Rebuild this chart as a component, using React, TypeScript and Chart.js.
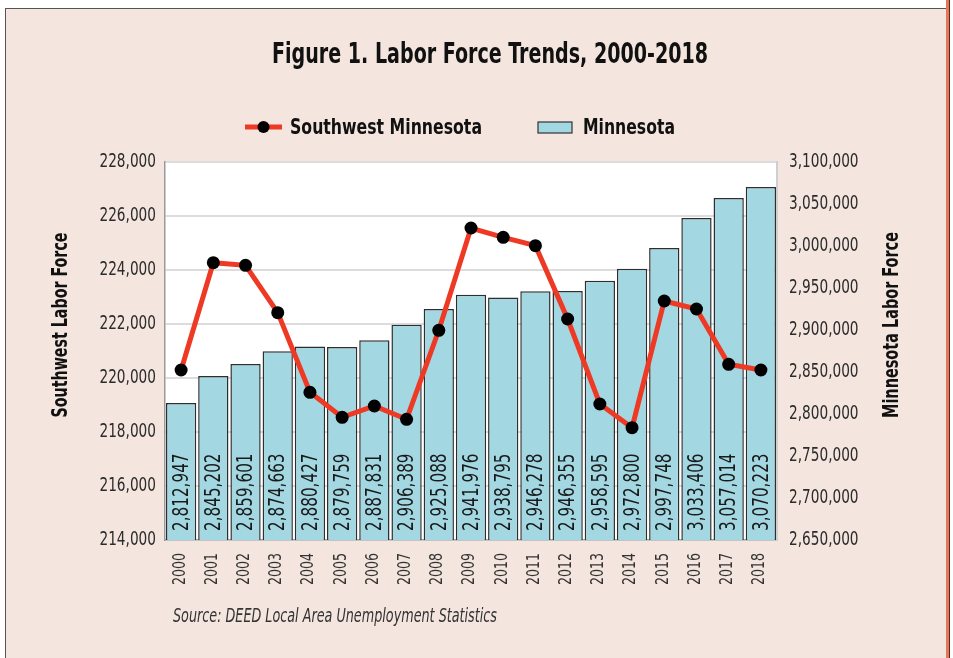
import React, { useEffect, useRef } from "react";
import { Chart, registerables } from "chart.js";

Chart.register(...registerables);

const years = ["2000","2001","2002","2003","2004","2005","2006","2007","2008","2009","2010","2011","2012","2013","2014","2015","2016","2017","2018"];
const southwestLabor = [220296, 224270, 224174, 222420, 219470, 218544, 218963, 218470, 221767, 225556, 225211, 224900, 222185, 219037, 218159, 222852, 222556, 220507, 220296];
const minnesotaLabor = [2812947, 2845202, 2859601, 2874663, 2880427, 2879759, 2887831, 2906389, 2925088, 2941976, 2938795, 2946278, 2946355, 2958595, 2972800, 2997748, 3033406, 3057014, 3070223];

const titleText = "Figure 1. Labor Force Trends, 2000-2018";
const swLabel = "Southwest Minnesota";
const mnLabel = "Minnesota";
const leftAxisTitle = "Southwest Labor Force";
const rightAxisTitle = "Minnesota Labor Force";
const sourceText = "Source: DEED Local Area Unemployment Statistics";

const FONT = "'DejaVu Sans Condensed', 'Liberation Sans Narrow', 'DejaVu Sans', sans-serif";
const BG = "#f4e6de";
const BAR_FILL = "#a3d8e3";
const BAR_EDGE = "#2e2e2e";
const LINE_RED = "#ee3a24";

const fmt = (v: number) => Math.round(v).toLocaleString("en-US");

type TextOpts = {
  font: string;
  color?: string;
  align?: CanvasTextAlign;
  baseline?: CanvasTextBaseline;
  rotate?: number;
  sx?: number;
  fitWidth?: number;
};

function drawText(ctx: CanvasRenderingContext2D, text: string, x: number, y: number, o: TextOpts) {
  ctx.save();
  ctx.font = o.font;
  ctx.fillStyle = o.color || "#111";
  ctx.textAlign = o.align || "left";
  ctx.textBaseline = o.baseline || "middle";
  let sx = o.sx || 1;
  if (o.fitWidth) sx = o.fitWidth / ctx.measureText(text).width;
  ctx.translate(x, y);
  if (o.rotate) ctx.rotate(o.rotate);
  ctx.scale(sx, 1);
  ctx.fillText(text, 0, 0);
  ctx.restore();
}

const decorPlugin = {
  id: "decor",
  beforeDraw(chart: any) {
    const { ctx, chartArea: a } = chart;
    ctx.save();
    ctx.fillStyle = "#ffffff";
    ctx.fillRect(a.left, a.top, a.right - a.left, a.bottom - a.top);
    ctx.restore();
  },
  afterDraw(chart: any) {
    const { ctx, chartArea: a } = chart;
    const sy = chart.scales.y;
    const sy1 = chart.scales.y1;
    const sxs = chart.scales.x;
    // bar value labels
    const barBase = sy1.getPixelForValue(sy1.min);
    minnesotaLabor.forEach((v, i) => {
      drawText(ctx, fmt(v), sxs.getPixelForValue(i) + 1, barBase - 9, {
        font: `22px ${FONT}`,
        color: "#1a1a1a",
        align: "left",
        baseline: "middle",
        rotate: -Math.PI / 2,
        sx: 0.77,
      });
    });
    // y ticks
    sy.ticks.forEach((t: any, i: number) => {
      drawText(ctx, fmt(t.value), a.left - 9, sy.getPixelForTick(i), {
        font: `20px ${FONT}`, color: "#2b2b2b", align: "right", sx: 0.76,
      });
    });
    sy1.ticks.forEach((t: any, i: number) => {
      drawText(ctx, fmt(t.value), a.right + 12, sy1.getPixelForTick(i), {
        font: `20px ${FONT}`, color: "#2b2b2b", align: "left", sx: 0.76,
      });
    });
    sxs.ticks.forEach((t: any, i: number) => {
      drawText(ctx, String(chart.data.labels[i]), sxs.getPixelForTick(i) - 1, a.bottom + 13, {
        font: `17px ${FONT}`, color: "#333", align: "right", rotate: -Math.PI / 2, sx: 0.82,
      });
    });
    // title
    drawText(ctx, titleText, 484, 46, { font: `bold 29px ${FONT}`, color: "#111", align: "center", fitWidth: 436 });
    // legend
    ctx.save();
    const ly = 118;
    ctx.strokeStyle = LINE_RED;
    ctx.lineWidth = 5;
    ctx.beginPath();
    ctx.moveTo(239, ly);
    ctx.lineTo(276, ly);
    ctx.stroke();
    ctx.fillStyle = "#000";
    ctx.beginPath();
    ctx.arc(257.5, ly, 6, 0, Math.PI * 2);
    ctx.fill();
    ctx.fillStyle = BAR_FILL;
    ctx.fillRect(532, 113, 34, 11);
    ctx.strokeStyle = "#333";
    ctx.lineWidth = 1.2;
    ctx.strokeRect(532, 113, 34, 11);
    ctx.restore();
    drawText(ctx, swLabel, 284, ly + 1, { font: `bold 22px ${FONT}`, color: "#111", fitWidth: 192 });
    drawText(ctx, mnLabel, 577, ly + 1, { font: `bold 22px ${FONT}`, color: "#111", fitWidth: 92 });
    // axis titles
    drawText(ctx, leftAxisTitle, 56, 316, { font: `bold 21px ${FONT}`, color: "#111", align: "center", rotate: -Math.PI / 2, fitWidth: 185 });
    drawText(ctx, rightAxisTitle, 887, 316, { font: `bold 21px ${FONT}`, color: "#111", align: "center", rotate: -Math.PI / 2, fitWidth: 186 });
    // source
    drawText(ctx, sourceText, 167, 608, { font: `italic 19px ${FONT}`, color: "#333", fitWidth: 324 });
  },
};

export default function App() {
  const ref = useRef<HTMLCanvasElement | null>(null);
  useEffect(() => {
    if (!ref.current) return;
    const chart = new Chart(ref.current, {
      type: "bar",
      data: {
        labels: years,
        datasets: [
          {
            type: "line",
            label: swLabel,
            data: southwestLabor,
            yAxisID: "y",
            borderColor: LINE_RED,
            borderWidth: 5,
            pointBackgroundColor: "#000",
            pointBorderColor: "#000",
            pointBorderWidth: 0,
            pointRadius: 6.5,
            tension: 0,
            order: 0,
          } as any,
          {
            type: "bar",
            label: mnLabel,
            data: minnesotaLabor,
            yAxisID: "y1",
            backgroundColor: BAR_FILL,
            borderColor: BAR_EDGE,
            borderWidth: 1.5,
            categoryPercentage: 1,
            barPercentage: 0.94,
            order: 1,
          },
        ],
      },
      options: {
        responsive: false,
        animation: false,
        devicePixelRatio: 1,
        layout: { padding: { left: 30, right: 0, top: 153, bottom: 0 } },
        plugins: {
          legend: { display: false },
          tooltip: { enabled: false },
          title: { display: false },
        },
        scales: {
          x: {
            grid: { display: false, drawTicks: false },
            border: { display: true, color: "#aaaaaa", width: 1.5 },
            ticks: { display: false, autoSkip: false },
            afterFit: (s: any) => { s.height = 118; },
          },
          y: {
            position: "left",
            min: 214000,
            max: 228000,
            ticks: { display: false, stepSize: 2000 },
            grid: { color: "#dcdcdc", lineWidth: 2, drawTicks: false },
            border: { display: true, color: "#9a9a9a", width: 1.5 },
            afterFit: (s: any) => { s.width = 129; },
          },
          y1: {
            position: "right",
            min: 2650000,
            max: 3100000,
            ticks: { display: false, stepSize: 50000 },
            grid: { display: false, drawTicks: false },
            border: { display: true, color: "#cfcfcf", width: 2 },
            afterFit: (s: any) => { s.width = 169; },
          },
        },
      },
      plugins: [decorPlugin],
    });
    return () => chart.destroy();
  }, []);

  return (
    <div style={{ position: "fixed", left: 0, top: 0, width: 953, height: 658, background: "#ffffff", overflow: "hidden" }}>
      <div style={{ position: "absolute", left: 5, top: 8, width: 941, height: 660, background: BG, borderLeft: "1px solid #555", borderTop: "1px solid #555" }} />
      <div style={{ position: "absolute", left: 946, top: 0, width: 3, height: 658, background: "#e2775a" }} />
      <div style={{ position: "absolute", left: 949, top: 0, width: 1, height: 658, background: "#5a2a20" }} />
      <canvas ref={ref} width={940} height={649} style={{ position: "absolute", left: 6, top: 9, width: 940, height: 649, display: "block" }} />
    </div>
  );
}
